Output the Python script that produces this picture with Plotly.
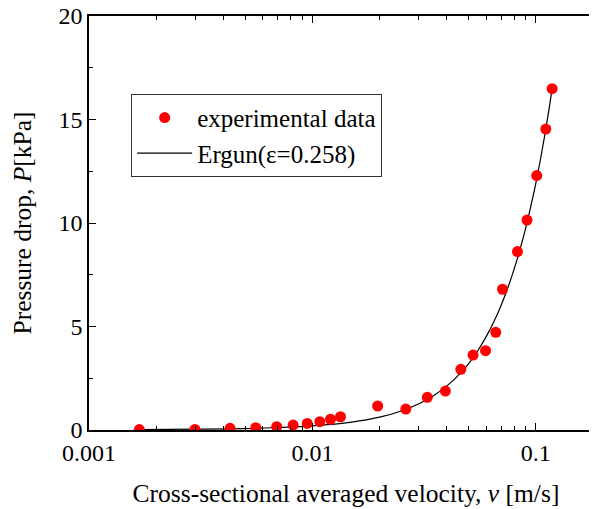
import plotly.graph_objects as go

exp_v = [0.00168, 0.00298, 0.00428, 0.00558, 0.00692, 0.0082, 0.00948, 0.0108,
         0.01206, 0.01336, 0.0196, 0.0262, 0.0327, 0.0394, 0.0462, 0.0524,
         0.0596, 0.0662, 0.0710, 0.0828, 0.0914, 0.101, 0.1109, 0.1184]
exp_p = [0.02, 0.03, 0.08, 0.11, 0.16, 0.24, 0.32, 0.40,
         0.52, 0.64, 1.16, 1.01, 1.58, 1.88, 2.93, 3.62,
         3.83, 4.72, 6.80, 8.62, 10.14, 12.29, 14.54, 16.49]

# Ergun curve
erg_v = [0.0017, 0.003, 0.005, 0.007, 0.01, 0.015, 0.02, 0.025, 0.03, 0.035,
         0.04, 0.045, 0.05, 0.055, 0.06, 0.065, 0.07, 0.075, 0.08, 0.085,
         0.09, 0.095, 0.1, 0.105, 0.11, 0.115, 0.1184]
erg_p = [0.02, 0.04, 0.07, 0.12, 0.2, 0.38, 0.62, 0.92, 1.27, 1.67,
         2.13, 2.64, 3.2, 3.83, 4.51, 5.24, 6.03, 6.87, 7.77, 8.72,
         9.73, 10.8, 11.9, 13.08, 14.31, 15.59, 16.5]

x_tickvals = [0.001, 0.01, 0.1]
x_ticktext = ["0.001", "0.01", "0.1"]
y_tickvals = [0, 5, 10, 15, 20]

FONT = "Liberation Serif"
TICK = 24
TITLE = 25.5

fig = go.Figure()
fig.add_trace(go.Scatter(x=erg_v, y=erg_p, mode="lines", name="Ergun(ε=0.258)",
                         line=dict(color="black", width=1.2, shape="spline"),
                         legendrank=2))
fig.add_trace(go.Scatter(x=exp_v, y=exp_p, mode="markers", name="experimental data",
                         marker=dict(color="#ff0000", size=11, line=dict(width=0)),
                         legendrank=1))

fig.update_layout(
    width=597, height=509,
    margin=dict(l=81, r=2, t=8, b=87),
    paper_bgcolor="white", plot_bgcolor="white",
    font=dict(family=FONT, size=TICK, color="black"),
    showlegend=True,
    legend=dict(x=0.082, y=0.812, xanchor="left", yanchor="top",
                bordercolor="#333333", borderwidth=1, bgcolor="white",
                font=dict(family=FONT, size=25), tracegroupgap=0,
                itemwidth=55),
    xaxis=dict(type="log", range=[-3, -0.69897], showline=True, linecolor="black",
               linewidth=1.5, mirror="allticks", ticks="inside", ticklen=7,
               tickwidth=1.2, tickcolor="black", automargin=False,
               tickvals=x_tickvals, ticktext=x_ticktext, showgrid=False, zeroline=False,
               ticklabeloverflow="allow",
               minor=dict(ticks="inside", ticklen=4, tickwidth=1.2, tickcolor="black",
                          dtick="D1", showgrid=False),
               title=dict(text="Cross-sectional averaged velocity, <i>v</i> [m/s]",
                          font=dict(size=TITLE), standoff=20),
               tickfont=dict(size=TICK)),
    yaxis=dict(range=[0, 20], showline=True, linecolor="black", linewidth=1.5,
               mirror="allticks", automargin=False, ticklabeloverflow="allow",
               ticks="inside", ticklen=7, tickwidth=1.2, tickcolor="black",
               tickvals=y_tickvals, showgrid=False, zeroline=False,
               minor=dict(ticks="inside", ticklen=4, tickwidth=1.2, tickcolor="black",
                          dtick=2.5, showgrid=False),
               title=dict(text="\u00a0\u00a0\u00a0Pressure drop, <i>P</i>[kPa]",
                          font=dict(size=TITLE), standoff=20),
               tickfont=dict(size=TICK)),
)

fig.write_html("out.html")
